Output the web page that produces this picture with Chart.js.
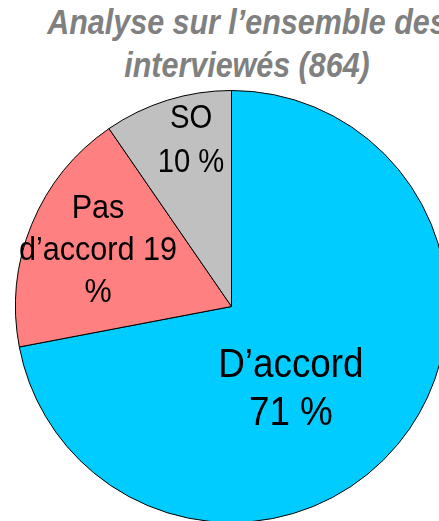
<!DOCTYPE html>
<html><head><meta charset="utf-8">
<script src="https://cdn.jsdelivr.net/npm/chart.js@4"></script>
<style>
html,body{margin:0;padding:0;width:439px;height:521px;overflow:hidden;background:#fff;}
#title{position:absolute;left:0;top:0;width:494px;text-align:center;font-family:"Liberation Sans",Arial,sans-serif;font-weight:bold;font-style:italic;font-size:35px;line-height:43px;color:#808080;white-space:nowrap;transform:scaleX(0.87);transform-origin:247px 0;}
#wrap{position:absolute;left:15px;top:90px;width:433px;height:433px;}
</style></head><body>
<div id="title">Analyse sur l’ensemble des<br>interviewés (864)</div>
<div id="wrap"><canvas id="c"></canvas></div>
<script>
const categories = ["D’accord", "Pas d’accord", "SO"];
const sliceValues = [72.0, 18.4, 9.6];
// percentages as printed in the labels
const percentLabels = [71, 19, 10];
const sliceColors = ["#00CCFF", "#FF8080", "#C0C0C0"];

const labelLines = [
  [categories[0], percentLabels[0] + " %"],
  ["Pas", "d’accord " + percentLabels[1], "%"],
  [categories[2], percentLabels[2] + " %"]
];
const FONT = '"Liberation Sans",Arial,sans-serif';
const labelPlacement = [
  {dx: 0.275, dy: 0.373, size: 40, lh: 48, sx: 0.92},
  {dx: -0.618, dy: -0.271, size: 34, lh: 42, sx: 0.9},
  {dx: -0.1875, dy: -0.78, size: 34, lh: 44, sx: 0.86}
];

const sliceLabels = {
  id: 'sliceLabels',
  afterDatasetsDraw(chart) {
    const meta = chart.getDatasetMeta(0);
    const ctx = chart.ctx;
    meta.data.forEach((arc, i) => {
      const p = labelPlacement[i];
      const r = arc.outerRadius;
      const cx = arc.x + p.dx * r, cy = arc.y + p.dy * r;
      ctx.save();
      ctx.translate(cx, 0);
      ctx.scale(p.sx, 1);
      ctx.font = p.size + 'px ' + FONT;
      ctx.fillStyle = '#000';
      ctx.textAlign = 'center';
      ctx.textBaseline = 'alphabetic';
      const lines = labelLines[i];
      const n = lines.length;
      const cap = 0.716 * p.size;
      lines.forEach((t, j) => {
        ctx.fillText(t, 0, cy + (j - (n - 1) / 2) * p.lh + cap / 2);
      });
      ctx.restore();
    });
  }
};

new Chart(document.getElementById('c'), {
  type: 'pie',
  data: {
    labels: categories,
    datasets: [{
      data: sliceValues,
      backgroundColor: sliceColors,
      borderColor: '#000',
      borderWidth: 1
    }]
  },
  options: {
    responsive: true,
    maintainAspectRatio: false,
    animation: false,
    layout: {padding: 0},
    plugins: {legend: {display: false}, tooltip: {enabled: false}, title: {display: false}}
  },
  plugins: [sliceLabels]
});
</script>
</body></html>
